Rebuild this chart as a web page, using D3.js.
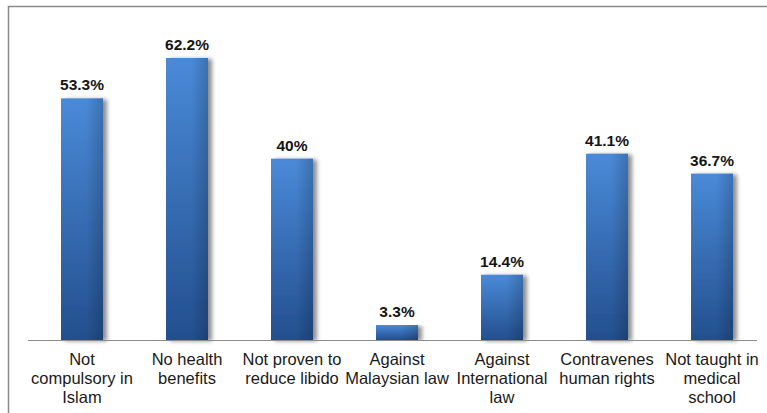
<!DOCTYPE html>
<html><head><meta charset="utf-8">
<script src="https://cdn.jsdelivr.net/npm/d3@7"></script>
<style>body{margin:0;background:#fff}svg{display:block}</style>
</head><body>
<script>
const categories = [
  ["Not", "compulsory in", "Islam"],
  ["No health", "benefits"],
  ["Not proven to", "reduce libido"],
  ["Against", "Malaysian law"],
  ["Against", "International", "law"],
  ["Contravenes", "human rights"],
  ["Not taught in", "medical", "school"]
];
const values = [53.3, 62.2, 40, 3.3, 14.4, 41.1, 36.7];
const valueLabels = ["53.3%", "62.2%", "40%", "3.3%", "14.4%", "41.1%", "36.7%"];

const W = 767, H = 413;
const svg = d3.select("body").append("svg").attr("width", W).attr("height", H);
const defs = svg.append("defs");
const grad = defs.append("linearGradient").attr("id", "bg").attr("x1", 0).attr("y1", 0).attr("x2", 0).attr("y2", 1);
grad.append("stop").attr("offset", "0%").attr("stop-color", "#4a8ad8");
grad.append("stop").attr("offset", "100%").attr("stop-color", "#234f8e");
const grad2 = defs.append("linearGradient").attr("id", "bh").attr("x1", 0).attr("y1", 0).attr("x2", 1).attr("y2", 0);
grad2.append("stop").attr("offset", "0%").attr("stop-color", "#000").attr("stop-opacity", 0);
grad2.append("stop").attr("offset", "60%").attr("stop-color", "#000").attr("stop-opacity", 0);
grad2.append("stop").attr("offset", "100%").attr("stop-color", "#000").attr("stop-opacity", 0.18);
const f = defs.append("filter").attr("id", "sh").attr("x", "-20%").attr("y", "-5%").attr("width", "160%").attr("height", "110%");
f.append("feGaussianBlur").attr("in", "SourceAlpha").attr("stdDeviation", 2.2).attr("result", "b");
f.append("feOffset").attr("in", "b").attr("dx", 4).attr("dy", 1).attr("result", "o");
f.append("feComponentTransfer").attr("in", "o").attr("result", "o2").append("feFuncA").attr("type", "linear").attr("slope", 0.45);
const fm = f.append("feMerge");
fm.append("feMergeNode").attr("in", "o2");
fm.append("feMergeNode").attr("in", "SourceGraphic");

// frame
svg.append("path").attr("d", `M8.5,${H} L8.5,6.5 L${W},6.5`).attr("fill", "none").attr("stroke", "#8a8a8a").attr("stroke-width", 1.5);

const x = d3.scaleBand().domain(d3.range(values.length)).range([29.5, 764.5]).paddingInner(0.6).paddingOuter(0.3);
const y = d3.scaleLinear().domain([0, 62.2]).range([340, 58]);

const g = svg.append("g");
g.selectAll("rect.bar").data(values).join("rect").attr("class", "bar")
  .attr("x", (d, i) => x(i)).attr("width", x.bandwidth())
  .attr("y", d => y(d)).attr("height", d => y(0) - y(d))
  .attr("fill", "url(#bg)").attr("filter", "url(#sh)");
g.selectAll("rect.ov").data(values).join("rect").attr("class", "ov")
  .attr("x", (d, i) => x(i)).attr("width", x.bandwidth())
  .attr("y", d => y(d)).attr("height", d => y(0) - y(d))
  .attr("fill", "url(#bh)");

// baseline
svg.append("line").attr("x1", 28).attr("x2", 757).attr("y1", 340.5).attr("y2", 340.5).attr("stroke", "#8c8c8c").attr("stroke-width", 1);

g.selectAll("text.val").data(values).join("text").attr("class", "val")
  .attr("x", (d, i) => x(i) + x.bandwidth() / 2).attr("y", d => y(d) - 8)
  .attr("text-anchor", "middle").attr("font-family", "Arial, 'Liberation Sans', sans-serif")
  .attr("font-size", 15.5).attr("font-weight", "bold").attr("fill", "#151515")
  .text((d, i) => valueLabels[i]);

const lab = svg.selectAll("text.cat").data(categories).join("text").attr("class", "cat")
  .attr("text-anchor", "middle").attr("font-family", "Arial, 'Liberation Sans', sans-serif")
  .attr("font-size", 16.5).attr("fill", "#1a1a1a");
lab.each(function(d, i) {
  d3.select(this).selectAll("tspan").data(d).join("tspan")
    .attr("x", x(i) + x.bandwidth() / 2)
    .attr("y", (t, j) => 365 + j * 19)
    .text(t => t);
});
</script>
</body></html>
